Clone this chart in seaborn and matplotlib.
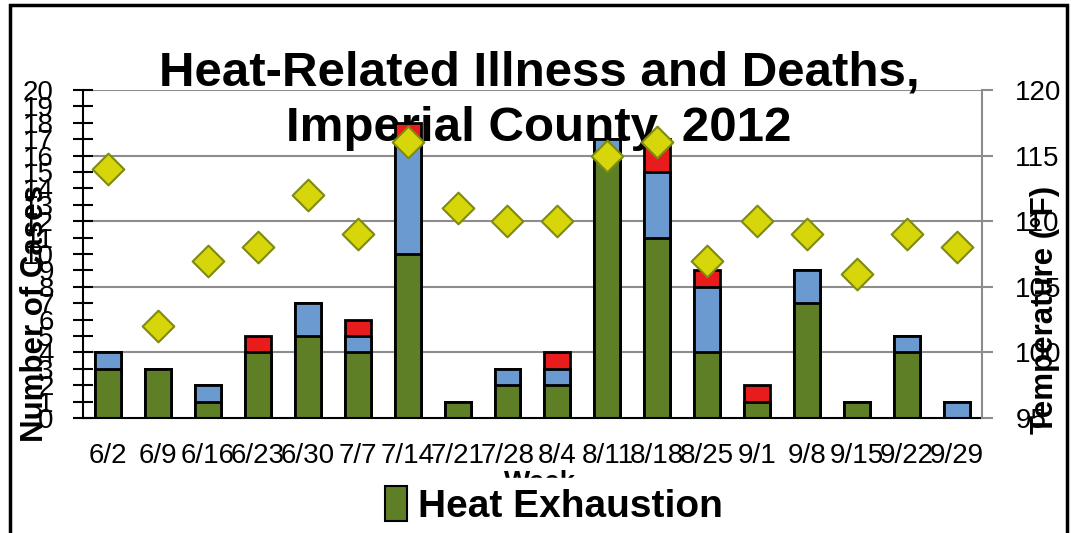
#Heat-Related Illness and Deaths, Imperial County, 2012
#stacked weekly case counts with weekly max temperature on a second axis
import numpy as np
import pandas as pd
import seaborn as sns
import matplotlib.pyplot as plt
from matplotlib.patches import Patch, Rectangle

# weekly data
weeks = ['6/2', '6/9', '6/16', '6/23', '6/30', '7/7', '7/14', '7/21', '7/28',
         '8/4', '8/11', '8/18', '8/25', '9/1', '9/8', '9/15', '9/22', '9/29']
heat_exhaustion = [3, 3, 1, 4, 5, 4, 10, 1, 2, 2, 16, 11, 4, 1, 7, 1, 4, 0]
heat_stroke = [1, 0, 1, 0, 2, 1, 7, 0, 1, 1, 1, 4, 4, 0, 2, 0, 1, 1]
deaths = [0, 0, 0, 1, 0, 1, 1, 0, 0, 1, 0, 2, 1, 1, 0, 0, 0, 0]
temperature = [114, 102, 107, 108, 112, 109, 116, 111, 110, 110,
               115, 116, 107, 110, 109, 106, 109, 108]

green = '#5E7F25'
blue = '#6A9AD0'
red = '#E81C1C'
yellow = '#D6D60A'

df = pd.DataFrame({'Week': weeks, 'Exhaustion': heat_exhaustion,
                   'Stroke': heat_stroke, 'Deaths': deaths})
df['ExStroke'] = df['Exhaustion'] + df['Stroke']
df['Total'] = df['ExStroke'] + df['Deaths']

sns.set_style('white')
plt.rcParams['font.family'] = ['Liberation Sans', 'DejaVu Sans']
plt.rcParams['text.color'] = 'black'
plt.rcParams['axes.labelcolor'] = 'black'
plt.rcParams['xtick.color'] = 'black'
plt.rcParams['ytick.color'] = 'black'

fig = plt.figure(figsize=(10.76, 5.33), dpi=100)
ax = fig.add_axes([0.0771, 0.2158, 0.8355, 0.6153])
ax.patch.set_visible(False)

# gridlines behind the bars (match the right axis ticks)
for g in [4, 8, 12, 16, 20]:
    ax.axhline(g, color='#8C8C8C', lw=1.5, zorder=0.5)

# stacked bars: draw cumulative totals from the top down
bar_kw = dict(width=0.52, saturation=1, edgecolor='black', linewidth=2, ax=ax)
sns.barplot(data=df, x='Week', y='Total', color=red, **bar_kw)
sns.barplot(data=df, x='Week', y='ExStroke', color=blue, **bar_kw)
sns.barplot(data=df, x='Week', y='Exhaustion', color=green, **bar_kw)

ax.set_ylim(0, 20)
ax.set_yticks(range(0, 21))
ax.set_xlim(-0.5, len(weeks) - 0.5)
ax.tick_params(axis='y', direction='inout', length=14, width=1.5, colors='black',
               labelsize=20, pad=14, left=True)
ax.tick_params(axis='x', length=0, labelsize=20, pad=18, labelcolor='black')
for s in ['top', 'right']:
    ax.spines[s].set_visible(False)
ax.spines['left'].set_color('black')
ax.spines['left'].set_linewidth(1.5)
ax.spines['bottom'].set_color('black')
ax.spines['bottom'].set_linewidth(1.5)

ax.set_ylabel('Number of Cases', fontsize=22.5, fontweight='bold', color='black')
ax.yaxis.set_label_coords(-0.037, 0.32)
ax.set_xlabel('Week', fontsize=20, fontweight='bold', color='black')
ax.xaxis.set_label_coords(0.508, -0.159)

# temperature on the right axis
ax2 = ax.twinx()
sns.scatterplot(x=np.arange(len(weeks)), y=temperature, ax=ax2, marker='D', s=260,
                color=yellow, edgecolor='#7E8A10', linewidth=1.5, legend=False, zorder=3)
ax2.set_ylim(95, 120)
ax2.set_yticks(range(95, 121, 5))
ax2.set_xlim(-0.5, len(weeks) - 0.5)
ax2.tick_params(axis='y', direction='out', length=8, width=1.5, color='#8C8C8C',
                labelcolor='black', labelsize=20, pad=16, right=True)
for s in ['top', 'left', 'bottom']:
    ax2.spines[s].set_visible(False)
ax2.spines['right'].set_color('#8C8C8C')
ax2.spines['right'].set_linewidth(1.5)
ax2.set_ylabel('Temperature (°F)', fontsize=22.5, fontweight='bold', color='black')
ax2.yaxis.set_label_coords(1.053, 0.33)

# title sits between the gridlines and the bars
ax.text(0.501, 0.906, 'Heat-Related Illness and Deaths,\nImperial County, 2012',
        transform=fig.transFigure, ha='center', va='top', fontsize=35.5,
        fontweight='bold', linespacing=1.3, zorder=0.9, clip_on=False, color='black')

leg = fig.legend(handles=[Patch(facecolor=green, edgecolor='black', linewidth=1.5,
                                label='Heat Exhaustion')],
                 loc='center', bbox_to_anchor=(0.515, 0.052), frameon=True,
                 prop={'size': 28, 'weight': 'bold'}, handlelength=0.55,
                 handleheight=1.0, handletextpad=0.3, borderpad=0.2,
                 fancybox=False, framealpha=1, labelcolor='black')
leg.get_frame().set_facecolor('white')
leg.get_frame().set_edgecolor('white')

# black frame around the chart
fig.add_artist(Rectangle((10 / 1076, -0.05), 1057 / 1076, 1 - 5 / 533 + 0.05,
                         transform=fig.transFigure, fill=False, lw=2.5,
                         edgecolor='black'))

fig.savefig('out.png', dpi=100)
